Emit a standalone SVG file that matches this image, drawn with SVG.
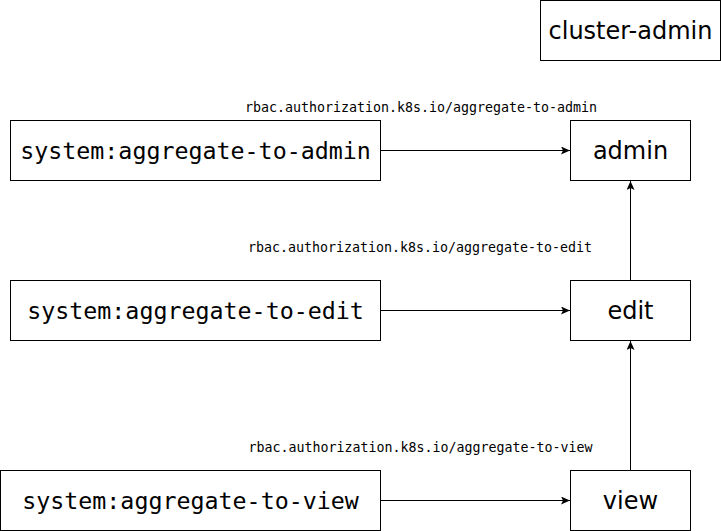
<svg xmlns="http://www.w3.org/2000/svg" width="721" height="531" viewBox="0 0 721 531">
<style>
.box{fill:#fff;stroke:#000;stroke-width:1}
.sans{font-family:"DejaVu Sans",sans-serif;font-size:24px;fill:#000;text-anchor:middle}
.mono{font-family:"DejaVu Sans Mono",monospace;font-size:23.3px;fill:#000;text-anchor:middle}
.lbl{font-family:"DejaVu Sans Mono",monospace;font-size:13.3px;fill:#000;text-anchor:middle}
.edge{stroke:#000;stroke-width:1;fill:none;marker-end:url(#arr)}
</style>
<defs>
<marker id="arr" markerWidth="10" markerHeight="8" refX="9" refY="4" orient="auto" markerUnits="userSpaceOnUse">
<path d="M0,0 L9,4 L0,8 L2,4 Z" fill="#000"/>
</marker>
</defs>
<rect width="721" height="531" fill="#fff"/>
<g id="connectors">
<line class="edge" x1="380.5" y1="150.5" x2="570" y2="150.5"/>
<line class="edge" x1="380.5" y1="310.5" x2="570" y2="310.5"/>
<line class="edge" x1="380.5" y1="500.5" x2="570" y2="500.5"/>
<line class="edge" x1="630.5" y1="280" x2="630.5" y2="181"/>
<line class="edge" x1="630.5" y1="470" x2="630.5" y2="341"/>
<text class="lbl" x="421" y="112">rbac.authorization.k8s.io/aggregate-to-admin</text>
<text class="lbl" x="420" y="252">rbac.authorization.k8s.io/aggregate-to-edit</text>
<text class="lbl" x="420.5" y="452">rbac.authorization.k8s.io/aggregate-to-view</text>
</g>
<g id="cluster-admin">
<rect class="box" x="540.5" y="0.5" width="180" height="60"/>
<text class="sans" x="630.5" y="38.5">cluster-admin</text>
</g>
<g id="admin">
<rect class="box" x="570.5" y="120.5" width="120" height="60"/>
<text class="sans" x="630.5" y="158.5">admin</text>
</g>
<g id="edit">
<rect class="box" x="570.5" y="280.5" width="120" height="60"/>
<text class="sans" x="630.5" y="318.5">edit</text>
</g>
<g id="view">
<rect class="box" x="570.5" y="470.5" width="120" height="60"/>
<text class="sans" x="630.5" y="508.5">view</text>
</g>
<g id="agg-admin">
<rect class="box" x="10.5" y="120.5" width="370" height="60"/>
<text class="mono" x="195.5" y="158.5">system:aggregate-to-admin</text>
</g>
<g id="agg-edit">
<rect class="box" x="10.5" y="280.5" width="370" height="60"/>
<text class="mono" x="195.5" y="318.5">system:aggregate-to-edit</text>
</g>
<g id="agg-view">
<rect class="box" x="0.5" y="470.5" width="380" height="60"/>
<text class="mono" x="190.5" y="508.5">system:aggregate-to-view</text>
</g>
</svg>
